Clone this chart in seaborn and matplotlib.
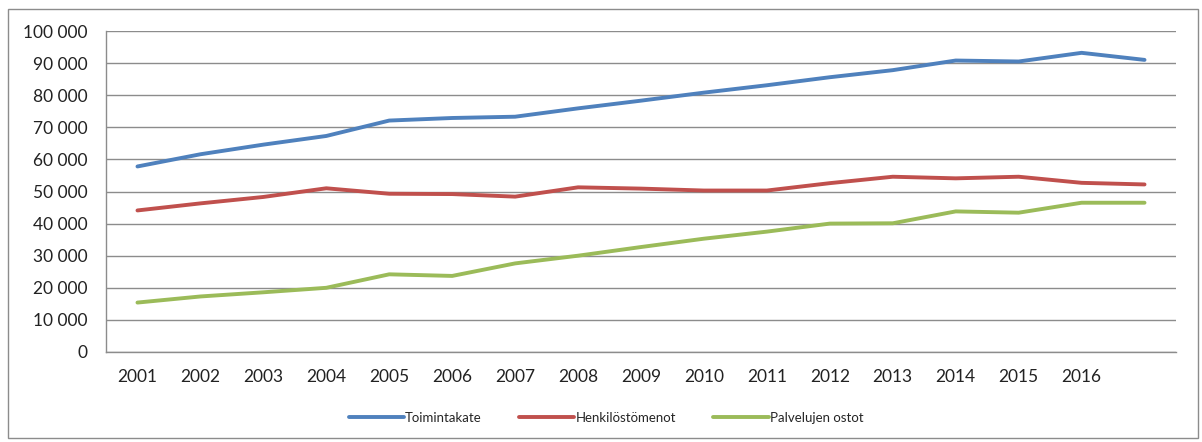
import matplotlib
matplotlib.use('Agg')
import matplotlib.pyplot as plt
import matplotlib.ticker as mticker
from matplotlib.patches import Rectangle
import seaborn as sns
import pandas as pd

# Categories (last one has no label in the original chart)
years = ['2001', '2002', '2003', '2004', '2005', '2006', '2007', '2008', '2009',
         '2010', '2011', '2012', '2013', '2014', '2015', '2016', '']

toimintakate = [57800, 61600, 64600, 67300, 72100, 72900, 73300, 75900, 78300,
                80800, 83100, 85600, 87800, 90800, 90500, 93200, 91000]
henkilostomenot = [44100, 46300, 48300, 51000, 49300, 49200, 48400, 51300, 50900,
                   50300, 50300, 52600, 54600, 54100, 54600, 52700, 52200]
palvelujen_ostot = [15400, 17300, 18600, 20000, 24200, 23700, 27600, 30000, 32700,
                    35300, 37500, 40000, 40100, 43800, 43400, 46500, 46500]

series_names = ['Toimintakate', 'Henkilöstömenot', 'Palvelujen ostot']
colors = ['#4F81BD', '#C0504D', '#9BBB59']

# long-form table for seaborn
rows = []
for name, vals in zip(series_names, [toimintakate, henkilostomenot, palvelujen_ostot]):
    for i, v in enumerate(vals):
        rows.append({'idx': i, 'value': v, 'series': name})
df = pd.DataFrame(rows)

sns.set_style('white')
plt.rcParams['font.family'] = ['Lato', 'DejaVu Sans']

fig = plt.figure(figsize=(12.02, 4.42), dpi=100)
ax = fig.add_axes([106 / 1202, 1 - 352 / 442, (1176 - 106) / 1202, (352 - 31) / 442])

sns.lineplot(data=df, x='idx', y='value', hue='series', hue_order=series_names,
             palette=colors, linewidth=2.8, ax=ax, legend=True)

# y axis: 0..100 000 with space as thousands separator
ax.set_ylim(0, 100000)
ax.yaxis.set_major_locator(mticker.MultipleLocator(10000))
ax.yaxis.set_major_formatter(mticker.FuncFormatter(lambda v, p: '{:,.0f}'.format(v).replace(',', ' ')))
ax.yaxis.grid(True, color='#8c8c8c', linewidth=1)
ax.set_axisbelow(True)

# x axis: ticks between categories, labels at centres
n = len(years)
ax.set_xlim(-0.5, n - 0.5)
ax.set_xticks([i - 0.5 for i in range(n + 1)])
ax.set_xticklabels([])
ax.set_xticks(range(n), minor=True)
ax.set_xticklabels(years, minor=True)
ax.tick_params(axis='x', which='major', direction='out', length=6, color='#8c8c8c', width=1)
ax.tick_params(axis='x', which='minor', length=0, labelsize=12.5, pad=12, colors='#222222')
ax.tick_params(axis='y', direction='out', length=5, color='#8c8c8c', width=1,
               labelsize=12.5, pad=8, colors='#222222')
ax.set_xlabel('')
ax.set_ylabel('')

for side in ['top', 'right']:
    ax.spines[side].set_visible(False)
for side in ['left', 'bottom']:
    ax.spines[side].set_color('#8c8c8c')
    ax.spines[side].set_linewidth(1)

# legend under the plot
handles, labels = ax.get_legend_handles_labels()
ax.legend_.remove()
fig.legend(handles, labels, loc='center', bbox_to_anchor=(606 / 1202, 1 - 418 / 442),
           ncol=3, frameon=False, fontsize=9.5, handlelength=4.2, columnspacing=2.8,
           handletextpad=0.1)

# outer chart border
fig.patches.append(Rectangle((8 / 1202, 4 / 442), 1190 / 1202, 429 / 442,
                             transform=fig.transFigure, fill=False,
                             edgecolor='#8c8c8c', linewidth=1))

plt.savefig('out.png', dpi=100)
plt.close()
